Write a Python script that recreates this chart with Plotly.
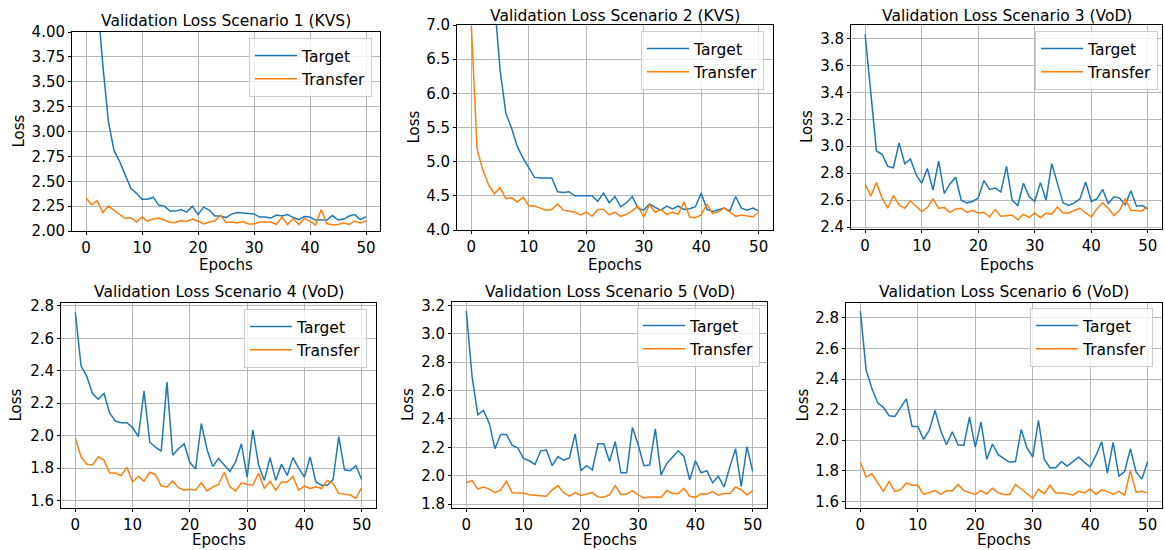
import plotly.graph_objects as go

epochs = list(range(51))

titles = ["Validation Loss Scenario 1 (KVS)", "Validation Loss Scenario 2 (KVS)",
          "Validation Loss Scenario 3 (VoD)", "Validation Loss Scenario 4 (VoD)",
          "Validation Loss Scenario 5 (VoD)", "Validation Loss Scenario 6 (VoD)"]

target_1 = [7.0, 5.2, 4.35, 3.67, 3.10, 2.81, 2.70, 2.56, 2.43, 2.38, 2.32, 2.32, 2.34, 2.26, 2.25,
            2.20, 2.20, 2.215, 2.19, 2.25, 2.165, 2.24, 2.21, 2.15, 2.15, 2.135, 2.17, 2.185, 2.178,
            2.175, 2.172, 2.14, 2.14, 2.13, 2.16, 2.15, 2.165, 2.135, 2.115, 2.145, 2.14, 2.11, 2.11,
            2.11, 2.155, 2.11, 2.12, 2.15, 2.165, 2.115, 2.145]
transfer_1 = [2.335, 2.265, 2.305, 2.185, 2.25, 2.21, 2.165, 2.125, 2.135, 2.09, 2.14, 2.10, 2.12,
              2.13, 2.11, 2.085, 2.085, 2.105, 2.095, 2.12, 2.10, 2.07, 2.09, 2.10, 2.16, 2.085, 2.09,
              2.08, 2.095, 2.07, 2.07, 2.09, 2.09, 2.09, 2.065, 2.14, 2.065, 2.125, 2.065, 2.125, 2.10,
              2.06, 2.215, 2.075, 2.06, 2.065, 2.08, 2.065, 2.10, 2.08, 2.10]

target_2 = [12.0, 10.0, 9.0, 8.0, 7.37, 6.34, 5.71, 5.49, 5.22, 5.05, 4.90, 4.77, 4.76, 4.76, 4.76,
            4.56, 4.55, 4.56, 4.50, 4.50, 4.50, 4.50, 4.42, 4.54, 4.40, 4.49, 4.34, 4.40, 4.49, 4.32,
            4.29, 4.38, 4.33, 4.29, 4.35, 4.31, 4.35, 4.30, 4.31, 4.34, 4.54, 4.30, 4.27, 4.29, 4.32,
            4.28, 4.49, 4.32, 4.29, 4.32, 4.28]
transfer_2 = [6.98, 5.18, 4.88, 4.66, 4.53, 4.62, 4.46, 4.47, 4.41, 4.48, 4.35, 4.35, 4.32, 4.29,
              4.30, 4.38, 4.29, 4.27, 4.26, 4.22, 4.26, 4.20, 4.30, 4.30, 4.22, 4.26, 4.20, 4.23, 4.28,
              4.35, 4.19, 4.37, 4.26, 4.30, 4.23, 4.26, 4.23, 4.41, 4.19, 4.18, 4.22, 4.38, 4.24, 4.27,
              4.32, 4.26, 4.20, 4.22, 4.21, 4.19, 4.26]

target_3 = [3.83, 3.40, 2.965, 2.94, 2.85, 2.84, 3.025, 2.87, 2.905, 2.79, 2.725, 2.835, 2.675, 2.89,
            2.65, 2.72, 2.77, 2.60, 2.58, 2.59, 2.615, 2.745, 2.68, 2.69, 2.66, 2.85, 2.60, 2.56, 2.725,
            2.625, 2.59, 2.73, 2.60, 2.87, 2.725, 2.58, 2.56, 2.58, 2.61, 2.735, 2.59, 2.61, 2.68,
            2.575, 2.625, 2.615, 2.565, 2.67, 2.555, 2.56, 2.535]
transfer_3 = [2.72, 2.63, 2.73, 2.615, 2.54, 2.635, 2.565, 2.54, 2.595, 2.555, 2.515, 2.545, 2.61,
              2.54, 2.545, 2.51, 2.535, 2.54, 2.51, 2.525, 2.505, 2.51, 2.475, 2.53, 2.48, 2.485, 2.49,
              2.455, 2.495, 2.47, 2.505, 2.47, 2.505, 2.495, 2.55, 2.505, 2.505, 2.525, 2.54, 2.505,
              2.475, 2.535, 2.58, 2.54, 2.485, 2.525, 2.61, 2.525, 2.52, 2.52, 2.555]

target_4 = [2.76, 2.43, 2.365, 2.26, 2.225, 2.26, 2.14, 2.09, 2.08, 2.08, 2.05, 1.995, 2.275, 1.96,
            1.93, 1.905, 2.33, 1.88, 1.92, 1.95, 1.835, 1.795, 2.075, 1.915, 1.81, 1.86, 1.82, 1.78,
            1.84, 1.95, 1.745, 2.035, 1.82, 1.725, 1.865, 1.725, 1.825, 1.755, 1.865, 1.80, 1.745,
            1.87, 1.715, 1.695, 1.695, 1.73, 1.995, 1.79, 1.785, 1.815, 1.73]
transfer_4 = [1.985, 1.87, 1.825, 1.82, 1.87, 1.85, 1.77, 1.77, 1.755, 1.805, 1.715, 1.75, 1.72,
              1.775, 1.76, 1.69, 1.685, 1.72, 1.68, 1.665, 1.67, 1.665, 1.71, 1.66, 1.685, 1.70, 1.775,
              1.685, 1.66, 1.71, 1.70, 1.695, 1.77, 1.675, 1.72, 1.665, 1.715, 1.715, 1.75, 1.665, 1.69,
              1.675, 1.685, 1.675, 1.725, 1.705, 1.645, 1.64, 1.635, 1.615, 1.68]

target_5 = [3.16, 2.70, 2.43, 2.46, 2.37, 2.19, 2.29, 2.29, 2.215, 2.195, 2.12, 2.105, 2.08, 2.175,
            2.18, 2.07, 2.135, 2.11, 2.125, 2.295, 2.035, 2.07, 2.04, 2.225, 2.225, 2.10, 2.24, 2.02,
            2.02, 2.34, 2.22, 2.07, 2.075, 2.33, 2.005, 2.085, 2.13, 2.175, 2.135, 1.97, 2.105, 2.02,
            2.035, 1.95, 1.995, 1.92, 2.06, 2.19, 1.925, 2.205, 2.03]
transfer_5 = [1.95, 1.965, 1.905, 1.92, 1.905, 1.88, 1.90, 1.96, 1.88, 1.88, 1.878, 1.865, 1.86,
              1.858, 1.855, 1.90, 1.93, 1.88, 1.855, 1.88, 1.86, 1.87, 1.88, 1.85, 1.847, 1.865, 1.93,
              1.868, 1.87, 1.895, 1.865, 1.843, 1.85, 1.85, 1.847, 1.895, 1.875, 1.875, 1.91, 1.855,
              1.847, 1.873, 1.87, 1.89, 1.863, 1.875, 1.873, 1.92, 1.90, 1.865, 1.895]

target_6 = [2.845, 2.46, 2.34, 2.245, 2.215, 2.16, 2.155, 2.21, 2.27, 2.09, 2.09, 2.005, 2.065,
            2.195, 2.06, 1.97, 2.055, 1.97, 1.965, 2.15, 1.955, 2.12, 1.875, 1.975, 1.905, 1.88,
            1.855, 1.86, 2.07, 1.95, 1.89, 2.13, 1.875, 1.82, 1.82, 1.86, 1.83, 1.86, 1.89, 1.855,
            1.825, 1.90, 1.99, 1.785, 1.985, 1.765, 1.795, 1.945, 1.79, 1.745, 1.86]
transfer_6 = [1.855, 1.76, 1.78, 1.725, 1.665, 1.73, 1.665, 1.675, 1.72, 1.705, 1.705, 1.645, 1.66,
              1.67, 1.645, 1.67, 1.668, 1.71, 1.67, 1.66, 1.645, 1.67, 1.648, 1.685, 1.655, 1.645,
              1.645, 1.71, 1.68, 1.655, 1.62, 1.68, 1.65, 1.705, 1.655, 1.655, 1.65, 1.64, 1.665,
              1.655, 1.68, 1.645, 1.675, 1.665, 1.645, 1.665, 1.64, 1.80, 1.66, 1.665, 1.655]

targets = [target_1, target_2, target_3, target_4, target_5, target_6]
transfers = [transfer_1, transfer_2, transfer_3, transfer_4, transfer_5, transfer_6]

y_ranges = [[2.0, 4.0], [4.0, 7.0], [2.386, 3.899], [1.555, 2.817], [1.772, 3.224], [1.556, 2.898]]
y_dticks = [0.25, 0.5, 0.2, 0.2, 0.2, 0.2]
y_formats = [".2f", ".1f", ".1f", ".1f", ".1f", ".1f"]

W, H = 1165, 550
# plot area boxes in pixels: left, right, top, bottom
boxes = [(72, 380, 32, 231), (457, 773, 25, 230), (851, 1162, 25, 229),
         (61, 376, 303, 508), (452, 767, 302, 508), (846, 1162, 303, 508)]
legend_pos = [(372, 38), (764, 31), (1158, 31), (367, 309), (760, 308), (1153, 308)]
title_y = [21, 16, 16, 292, 292, 292]
ylabel_x = [18, 413, 807, 15, 408, 802]
xlabel_y = [265, 265, 265, 540, 540, 540]

BLUE = "#1f77b4"
ORANGE = "#ff7f0e"
FONT = "DejaVu Sans"
FS = 15.5
TICK_FS = 15
LABEL_FS = 15

fig = go.Figure()
layout = dict(width=W, height=H, autosize=False, margin=dict(l=0, r=0, t=0, b=0, pad=0),
              paper_bgcolor="white", plot_bgcolor="white",
              font=dict(family=FONT, size=FS, color="black"), showlegend=True)
annotations = []

for i in range(6):
    n = i + 1
    sx = "" if n == 1 else str(n)
    xa, ya = "x" + sx, "y" + sx
    lg = "legend" + sx
    l, r, t, b = boxes[i]
    fig.add_trace(go.Scatter(x=epochs, y=targets[i], mode="lines", name="Target",
                             line=dict(color=BLUE, width=1.5), xaxis=xa, yaxis=ya, legend=lg))
    fig.add_trace(go.Scatter(x=epochs, y=transfers[i], mode="lines", name="Transfer",
                             line=dict(color=ORANGE, width=1.5), xaxis=xa, yaxis=ya, legend=lg))
    common = dict(showline=True, mirror=True, linecolor="black", linewidth=1,
                  showgrid=True, gridcolor="#b8b8b8", gridwidth=1,
                  ticks="outside", ticklen=3, tickwidth=1, tickcolor="black",
                  zeroline=False, automargin=False,
                  tickfont=dict(family=FONT, size=TICK_FS, color="black"))
    layout["xaxis" + sx] = dict(common, domain=[l / W, r / W], anchor=ya,
                                range=[-2.5, 52.5], tickmode="array",
                                tickvals=[0, 10, 20, 30, 40, 50])
    layout["yaxis" + sx] = dict(common, domain=[1 - b / H, 1 - t / H], anchor=xa,
                                range=y_ranges[i], dtick=y_dticks[i], tick0=0,
                                tickformat=y_formats[i])
    lx, ly = legend_pos[i]
    layout[lg] = dict(x=lx / W, y=1 - ly / H, xanchor="right", yanchor="top",
                      xref="paper", yref="paper", itemwidth=42,
                      bgcolor="rgba(255,255,255,0.8)", bordercolor="#cccccc", borderwidth=1,
                      font=dict(family=FONT, size=FS, color="black"), tracegroupgap=2)
    cx = (l + r) / 2
    annotations.append(dict(text=titles[i], x=cx / W, y=1 - title_y[i] / H, xref="paper",
                            yref="paper", showarrow=False, xanchor="center", yanchor="middle",
                            font=dict(family=FONT, size=FS, color="black")))
    annotations.append(dict(text="Epochs", x=cx / W, y=1 - xlabel_y[i] / H, xref="paper",
                            yref="paper", showarrow=False, xanchor="center", yanchor="middle",
                            borderpad=0, font=dict(family=FONT, size=LABEL_FS, color="black")))
    annotations.append(dict(text="Loss", x=ylabel_x[i] / W, y=1 - (t + b) / 2 / H, xref="paper",
                            yref="paper", showarrow=False, xanchor="center", yanchor="middle",
                            textangle=-90, font=dict(family=FONT, size=LABEL_FS, color="black")))

layout["annotations"] = annotations
fig.update_layout(**layout)
fig.write_html("out.html", config={"displayModeBar": False},
               post_script="document.body.style.margin='0';document.body.style.overflow='hidden';")
